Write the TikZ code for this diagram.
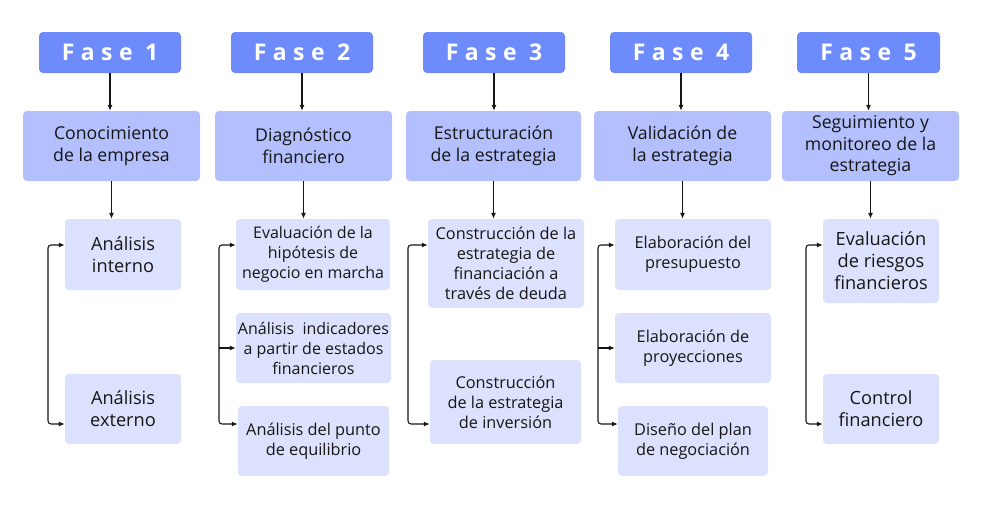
\documentclass[tikz,border=0pt]{standalone}
\usepackage{fontspec}
\setmainfont{Open Sans}
\usetikzlibrary{arrows.meta}

\definecolor{faseblue}{HTML}{6D8BFB}
\definecolor{midblue}{HTML}{B4C0FE}
\definecolor{lightblue}{HTML}{DCE2FD}
\definecolor{inkgray}{HTML}{161616}

\begin{document}
\begin{tikzpicture}[x=1pt,y=-1pt,
    fase/.style={fill=faseblue, rounded corners=4pt, inner sep=0pt, minimum height=41pt, minimum width=142pt,
      text=white, font=\fontsize{23}{28}\selectfont\bfseries\addfontfeature{LetterSpace=28}},
    etapa/.style={fill=midblue, rounded corners=4pt, inner sep=0pt, minimum height=70pt, minimum width=177pt,
      align=center, text=inkgray, font=\fontsize{17.7}{21.5}\selectfont},
    tarea/.style={fill=lightblue, rounded corners=4pt, inner sep=0pt, minimum height=70pt,
      align=center, text=inkgray, font=\fontsize{16.3}{20}\selectfont},
    grande/.style={font=\fontsize{18.2}{22}\selectfont},
    arr/.style={-{Latex[length=6pt,width=5pt]}, line width=1.1pt, inkgray},
    brk/.style={{Latex[length=6pt,width=5pt]}-{Latex[length=6pt,width=5pt]}, line width=1.1pt, inkgray, rounded corners=3pt}]
  \useasboundingbox (0,0) rectangle (991,517);

  % fases
  \node[fase] (F1) at (110,52.5) {Fase 1};
  \node[fase] (F2) at (302,52.5) {Fase 2};
  \node[fase] (F3) at (494,52.5) {Fase 3};
  \node[fase] (F4) at (681,52.5) {Fase 4};
  \node[fase, minimum width=143pt] (F5) at (868.5,52.5) {Fase 5};

  % etapas
  \node[etapa] (E1) at (111.5,146) {Conocimiento\\de la empresa};
  \node[etapa] (E2) at (303.5,146) {Diagnóstico\\financiero};
  \node[etapa, minimum width=175pt] (E3) at (493.5,146) {Estructuración\\de la estrategia};
  \node[etapa] (E4) at (682.5,146) {Validación de\\la estrategia};
  \node[etapa] (E5) at (870.5,146) {Seguimiento y\\monitoreo de la\\estrategia};

  % tareas
  \node[tarea, grande, minimum width=116pt, minimum height=71pt] (A1) at (123,254.5) {Análisis\\interno};
  \node[tarea, grande, minimum width=116pt] (A2) at (123,409) {Análisis\\externo};

  \node[tarea, font=\fontsize{16}{20}\selectfont, minimum width=154pt, minimum height=71pt] (B1) at (313,254.5) {Evaluación de la\\hipótesis de\\negocio en marcha};
  \node[tarea, font=\fontsize{16}{20}\selectfont, minimum width=155pt] (B2) at (313.5,348) {Análisis\ \ indicadores\\a partir de estados\\financieros};
  \node[tarea, minimum width=151pt] (B3) at (313.5,441) {Análisis del punto\\de equilibrio};

  \node[tarea, minimum width=156pt, minimum height=89pt] (C1) at (506,263.5) {Construcción de la\\estrategia de\\financiación a\\través de deuda};
  \node[tarea, minimum width=151pt, minimum height=84pt] (C2) at (505.5,402) {Construcción\\de la estrategia\\de inversión};

  \node[tarea, minimum width=156pt, minimum height=71pt] (D1) at (693,254.5) {Elaboración del\\presupuesto};
  \node[tarea, minimum width=156pt] (D2) at (693,348) {Elaboración de\\proyecciones};
  \node[tarea, minimum width=150pt] (D3) at (693,441) {Diseño del plan\\de negociación};

  \node[tarea, grande, minimum width=116pt, minimum height=84pt] (G1) at (881,261) {Evaluación\\de riesgos\\financieros};
  \node[tarea, grande, minimum width=116pt] (G2) at (881,409) {Control\\financiero};

  % flechas
  \foreach \i/\t in {1/A1,2/B1,3/C1,4/D1,5/G1}{
    \draw[arr] (F\i) -- (F\i |- E\i.north);
    \draw[arr] (E\i) -- (E\i |- \t.north);
  }

  \coordinate (a1) at (48,245);  \coordinate (a2) at (48,424);
  \coordinate (b1) at (219,245); \coordinate (b2) at (219,348); \coordinate (b3) at (219,424);
  \coordinate (c1) at (408,245); \coordinate (c2) at (408,424);
  \coordinate (d1) at (598,245); \coordinate (d2) at (598,348); \coordinate (d3) at (598,424);
  \coordinate (g1) at (806,245); \coordinate (g2) at (806,424);

  \draw[brk] (a1 -| A1.west) -- (a1) -- (a2) -- (a2 -| A2.west);
  \draw[brk] (b1 -| B1.west) -- (b1) -- (b3) -- (b3 -| B3.west);
  \draw[arr] (b2) -- (b2 -| B2.west);
  \draw[brk] (c1 -| C1.west) -- (c1) -- (c2) -- (c2 -| C2.west);
  \draw[brk] (d1 -| D1.west) -- (d1) -- (d3) -- (d3 -| D3.west);
  \draw[arr] (d2) -- (d2 -| D2.west);
  \draw[brk] (g1 -| G1.west) -- (g1) -- (g2) -- (g2 -| G2.west);
\end{tikzpicture}
\end{document}
